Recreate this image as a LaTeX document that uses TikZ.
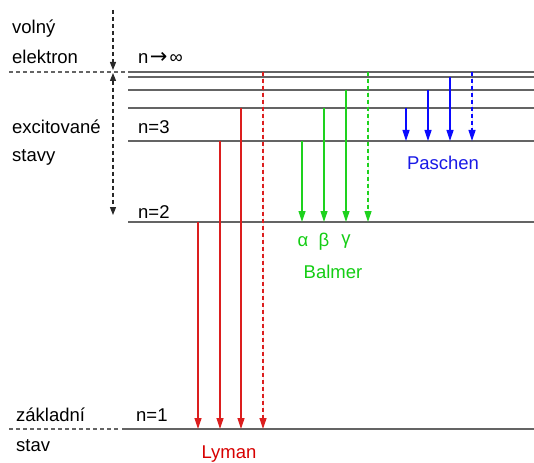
\documentclass[tikz,border=0pt]{standalone}
\usepackage{fontspec}
\setmainfont{Liberation Sans}
\newfontfamily\dvfont{DejaVu Sans}
\usetikzlibrary{arrows.meta}
\definecolor{lvl}{RGB}{100,100,100}
\definecolor{lyc}{RGB}{220,30,30}
\definecolor{lyt}{RGB}{215,0,0}
\definecolor{bac}{RGB}{30,210,30}
\definecolor{bat}{RGB}{20,205,20}
\definecolor{pac}{RGB}{10,10,255}
\definecolor{pat}{RGB}{25,25,230}
\definecolor{axc}{RGB}{40,40,40}
\begin{document}
\begin{tikzpicture}[x=1pt,y=-1pt,
  font=\fontsize{18.5}{22}\selectfont,
  levelline/.style={draw=lvl,line width=1.2pt},
  ghost/.style={draw=lvl,line width=1.1pt,dash pattern=on 4pt off 3pt},
  tr/.style={line width=1.2pt,-{Triangle[length=11pt,width=7pt]}},
  dsh/.style={dash pattern=on 4pt off 3pt},
  lyman/.style={tr,draw=lyc,fill=lyc},
  balmer/.style={tr,draw=bac,fill=bac},
  paschen/.style={tr,draw=pac,fill=pac},
  axarrow/.style={draw=axc,line width=1.1pt,dash pattern=on 4pt off 3pt},
  lbl/.style={anchor=west,inner sep=0pt}]
\useasboundingbox (0,0) rectangle (534,462);
% level endpoints
\coordinate (inS) at (128,72);  \coordinate (inE) at (534,72);
\coordinate (l6S) at (128,77);  \coordinate (l6E) at (534,77);
\coordinate (l5S) at (128,90);  \coordinate (l5E) at (534,90);
\coordinate (l4S) at (128,108); \coordinate (l4E) at (534,108);
\coordinate (l3S) at (128,141); \coordinate (l3E) at (534,141);
\coordinate (l2S) at (128,222); \coordinate (l2E) at (534,222);
\coordinate (l1S) at (122,429); \coordinate (l1E) at (534,429);
\coordinate (inD) at (9,72);
\coordinate (l1D) at (9,429);
\coordinate (inG) at (125,72);
\coordinate (l1G) at (118,429);
% levels
\foreach \a/\b in {inS/inE,l6S/l6E,l5S/l5E,l4S/l4E,l3S/l3E,l2S/l2E,l1S/l1E}
  \draw[levelline] (\a) -- (\b);
\draw[ghost] (inD) -- (inG);
\draw[ghost] (l1D) -- (l1G);
% left axis arrows
\coordinate (axTop) at (113,10);
\coordinate (axA) at (113,70);
\coordinate (axB) at (113,73);
\coordinate (axC) at (113,215);
\draw[axarrow,-{Triangle[length=8pt,width=6pt]}] (axTop) -- (axA);
\draw[axarrow,{Triangle[length=8pt,width=6pt]}-{Triangle[length=8pt,width=6pt]}] (axB) -- (axC);
% columns
\coordinate (c1) at (198,0); \coordinate (c2) at (220,0);
\coordinate (c3) at (241,0); \coordinate (c4) at (263,0);
\coordinate (c5) at (302,0); \coordinate (c6) at (324,0);
\coordinate (c7) at (346,0); \coordinate (c8) at (368,0);
\coordinate (c9) at (406,0); \coordinate (c10) at (428,0);
\coordinate (c11) at (450,0); \coordinate (c12) at (472,0);
% Lyman
\draw[lyman] (c1 |- l2S) -- (c1 |- l1S);
\draw[lyman] (c2 |- l3S) -- (c2 |- l1S);
\draw[lyman] (c3 |- l4S) -- (c3 |- l1S);
\draw[lyman,dsh] (c4 |- inS) -- (c4 |- l1S);
% Balmer
\draw[balmer] (c5 |- l3S) -- (c5 |- l2S);
\draw[balmer] (c6 |- l4S) -- (c6 |- l2S);
\draw[balmer] (c7 |- l5S) -- (c7 |- l2S);
\draw[balmer,dsh] (c8 |- inS) -- (c8 |- l2S);
% Paschen
\draw[paschen] (c9 |- l4S) -- (c9 |- l3S);
\draw[paschen] (c10 |- l5S) -- (c10 |- l3S);
\draw[paschen] (c11 |- l6S) -- (c11 |- l3S);
\draw[paschen,dsh] (c12 |- inS) -- (c12 |- l3S);
% left labels
\node[lbl] (tvol) at (12,29) {volný};
\node[lbl] (tel) at (12,57) {elektron};
\node[lbl] (tex) at (12,127) {excitované};
\node[lbl] (tst) at (12,157) {stavy};
\node[lbl] (tza) at (16,415) {základní};
\node[lbl] (tsv) at (16,446) {stav};
% level labels
\node[lbl] (ninf) at (138,58) {n\hspace{1.5pt}{\dvfont\fontsize{21}{22}\selectfont →}\hspace{2pt}∞};
\node[lbl] (n3) at (138,127) {n=3};
\node[lbl] (n2) at (138,212) {n=2};
\node[lbl] (n1) at (136,415) {n=1};
% series labels
\node[text=lyt] (tly) at (229,454) {Lyman};
\node[text=bat] (tal) at (303,242) {α};
\node[text=bat] (tbe) at (324,242) {β};
\node[text=bat] (tga) at (346,242) {γ};
\node[text=bat] (tba) at (333,272) {Balmer};
\node[text=pat] (tpa) at (443,163) {Paschen};
\end{tikzpicture}
\end{document}
